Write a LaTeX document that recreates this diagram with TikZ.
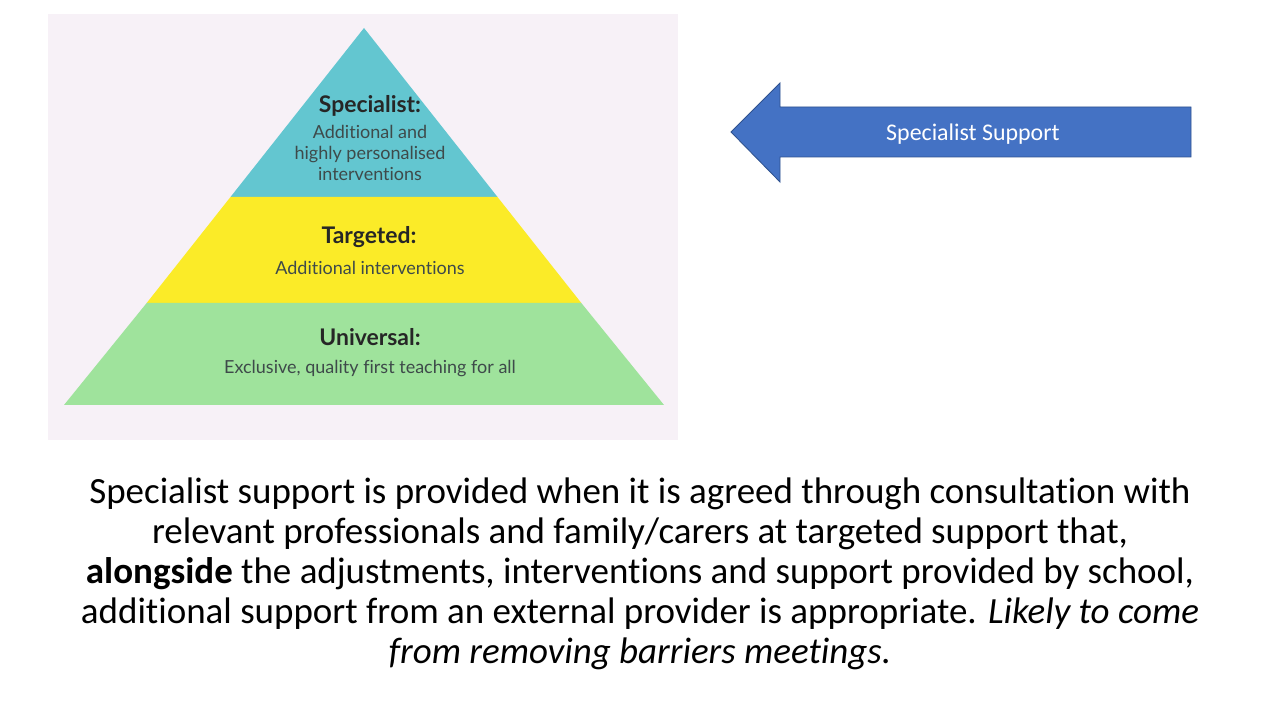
\documentclass[tikz,border=0pt]{standalone}
\usepackage{fontspec}
\setmainfont[Ligatures=NoCommon]{Carlito}
\newfontfamily\pyrfont[Ligatures=NoCommon]{Lato}
\usetikzlibrary{positioning}

\definecolor{panelbg}{HTML}{F7F1F7}
\definecolor{tealband}{HTML}{63C6D0}
\definecolor{yellowband}{HTML}{FBEB28}
\definecolor{greenband}{HTML}{9FE39C}
\definecolor{arrowblue}{HTML}{4472C4}
\definecolor{arrowedge}{HTML}{2F528F}
\definecolor{desctext}{HTML}{3E4A4A}

\tikzset{
    tierhead/.style={font=\pyrfont\bfseries\fontsize{16.3}{18}\selectfont, text=black!85, inner sep=0pt},
    tierdesc/.style={font=\pyrfont\fontsize{12.8}{15}\selectfont, text=desctext, align=center, inner sep=0pt},
}

\begin{document}
\begin{tikzpicture}[x=0.025cm,y=-0.025cm]
    \useasboundingbox (0,0) rectangle (1280,720);
    \fill[white] (0,0) rectangle (1280,720);

    % Pyramid panel
    \fill[panelbg] (48,14) rectangle (678,440);

    % Tiers
    \fill[tealband] (364,28) -- (497.5,197) -- (230.5,197) -- cycle;
    \fill[yellowband] (230.5,197) -- (497.5,197) -- (581.3,303) -- (146.7,303) -- cycle;
    \fill[greenband] (146.7,303) -- (581.3,303) -- (664,405) -- (64,405) -- cycle;

    % Tier labels
    \node[tierhead] (spechead) at (370,106) {Specialist:};
    \node[tierdesc] (specdesc) at (370,153) {Additional and\\highly personalised\\interventions};
    \node[tierhead] (targhead) at (369,237) {Targeted:};
    \node[tierdesc] (targdesc) at (370,268) {Additional interventions};
    \node[tierhead] (univhead) at (370,337) {Universal:};
    \node[tierdesc] (univdesc) at (370,369) {Exclusive, quality first teaching for all};

    % Arrow
    \filldraw[fill=arrowblue, draw=arrowedge, line width=0.6pt]
        (731,132) -- (780,83) -- (780,107) -- (1191,107) -- (1191,157) -- (780,157) -- (780,182) -- cycle;
    \node[text=white, font=\fontsize{17}{19}\selectfont] (arrowlabel) at (973,134) {Specialist Support};

    % Explanation
    \node[align=center, font=\fontsize{26.3}{28.45}\selectfont, inner sep=0pt] (explain) at (640,574)
        {Specialist support is provided when it is agreed through consultation with\\
         relevant professionals and family/carers at targeted support that,\\
         \textbf{alongside} the adjustments, interventions and support provided by school,\\
         additional support from an external provider is appropriate. \textit{Likely to come}\\
         \textit{from removing barriers meetings.}};
\end{tikzpicture}
\end{document}
